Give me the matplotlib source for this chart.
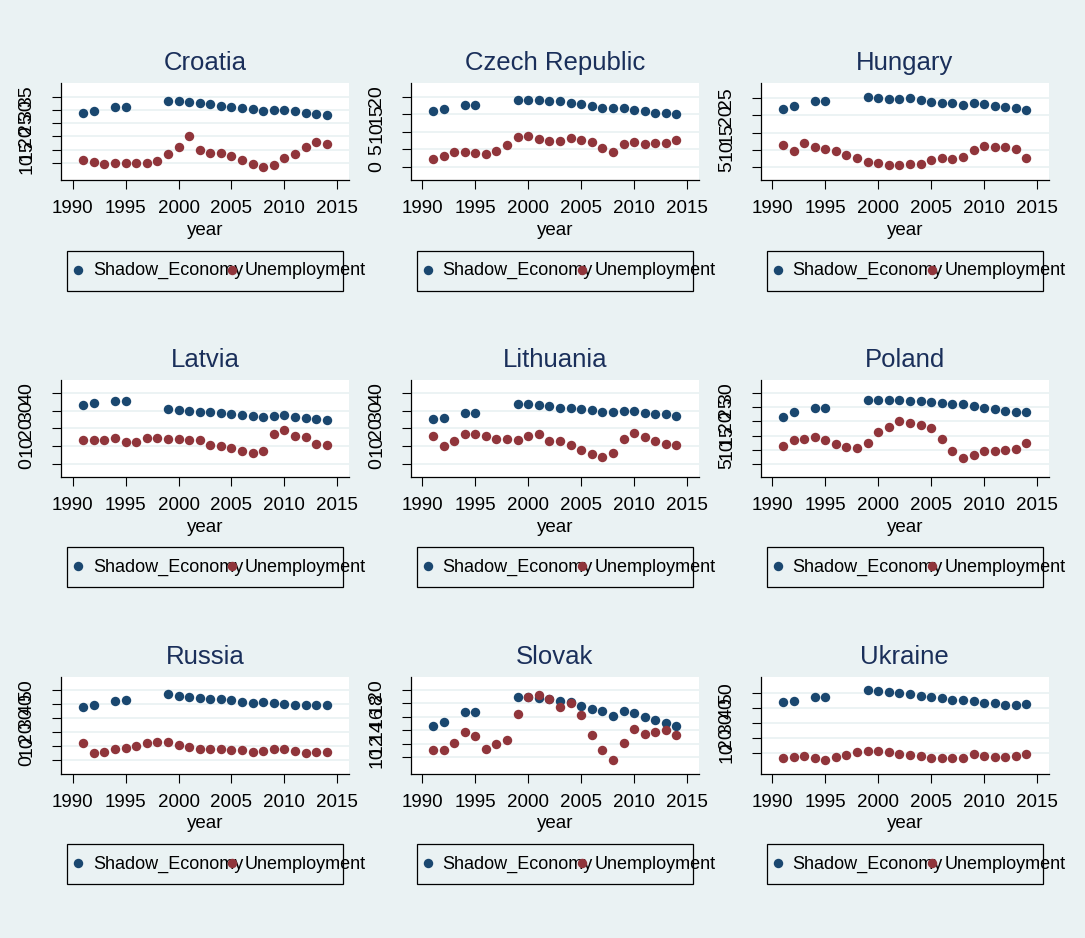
import numpy as np
import matplotlib
matplotlib.use("Agg")
import matplotlib.pyplot as plt
from matplotlib.patches import Rectangle
from matplotlib.lines import Line2D

plt.rcParams['font.family'] = ['Liberation Sans', 'DejaVu Sans']

years = list(range(1991, 2015))
countries = ["Croatia", "Czech Republic", "Hungary",
             "Latvia", "Lithuania", "Poland",
             "Russia", "Slovak", "Ukraine"]

# shadow economy (% of GDP), no data for 1993, 1996-1998
shadow_croatia = [28.75, 29.75, None, 30.9, 30.9, None, None, None, 33.5, 33.25, 33.0, 32.5,
                  32.1, 31.5, 31.25, 30.6, 30.4, 29.6, 30.0, 29.9, 29.5, 29.0, 28.4, 28.0]
shadow_czech = [16.0, 16.5, None, 17.6, 17.6, None, None, None, 19.1, 19.1, 19.0, 18.8,
                18.7, 18.3, 17.8, 17.2, 16.9, 16.7, 16.7, 16.2, 15.8, 15.4, 15.2, 15.0]
shadow_hungary = [21.9, 22.9, None, 24.2, 24.2, None, None, None, 25.5, 25.0, 24.8, 24.7,
                  25.0, 24.5, 23.8, 23.6, 23.6, 23.1, 23.5, 23.4, 22.9, 22.6, 22.2, 21.6]
shadow_latvia = [33.4, 34.7, None, 35.5, 35.5, None, None, None, 30.9, 30.6, 30.2, 29.6,
                 29.2, 28.9, 28.3, 27.4, 27.0, 26.8, 27.0, 27.4, 26.6, 26.0, 25.3, 24.9]
shadow_lithuania = [25.3, 26.2, None, 28.7, 28.7, None, None, None, 33.8, 33.8, 33.4, 32.8,
                    31.9, 31.9, 31.1, 30.6, 29.6, 29.4, 29.8, 29.8, 28.9, 28.5, 28.1, 27.0]
shadow_poland = [21.7, 23.2, None, 24.9, 24.9, None, None, None, 27.6, 27.6, 27.6, 27.6,
                 27.4, 27.4, 26.8, 26.5, 26.1, 26.1, 25.5, 24.9, 24.3, 23.8, 23.5, 23.3]
shadow_russia = [38.2, 39.4, None, 42.2, 42.7, None, None, None, 46.9, 46.0, 45.3, 44.3,
                 43.9, 43.4, 42.7, 41.5, 41.0, 41.5, 41.0, 40.3, 39.4, 39.4, 39.2, 39.6]
shadow_slovak = [14.6, 15.2, None, 16.65, 16.75, None, None, None, 19.0, 18.9, 18.8, 18.6,
                 18.4, 18.2, 17.6, 17.2, 16.8, 16.1, 16.8, 16.5, 16.0, 15.5, 15.1, 14.7]
shadow_ukraine = [43.8, 44.9, None, 47.8, 47.8, None, None, None, 52.2, 51.8, 51.1, 50.4,
                  49.6, 48.4, 47.3, 46.7, 45.6, 45.6, 44.7, 43.6, 43.1, 42.4, 41.8, 42.7]

# unemployment rate (%)
unemp_croatia = [11.25, 10.25, 9.75, 10, 10, 10, 10, 10.6, 13.5, 16, 20.25, 15,
                 13.75, 13.75, 12.5, 11.25, 9.75, 8.5, 9.1, 11.75, 13.5, 16, 17.75, 17.25]
unemp_czech = [2.3, 3.2, 4.2, 4.2, 4.0, 3.7, 4.6, 6.3, 8.5, 8.7, 7.9, 7.3,
               7.5, 8.1, 7.7, 7.0, 5.3, 4.4, 6.5, 7.2, 6.5, 6.8, 6.8, 7.8]
unemp_hungary = [11.5, 9.8, 12.1, 10.7, 10.2, 9.7, 8.6, 7.6, 6.6, 6.2, 5.6, 5.6,
                 5.9, 5.9, 6.9, 7.5, 7.3, 7.8, 10.0, 11.2, 10.8, 10.8, 10.2, 7.7]
unemp_latvia = [13.6, 13.2, 13.2, 14.5, 12.6, 12.6, 14.5, 14.5, 14.0, 14.3, 13.2, 13.2,
                10.8, 9.8, 8.9, 7.0, 6.0, 7.4, 17.0, 18.9, 16.0, 14.9, 11.1, 10.8]
unemp_lithuania = [15.5, 9.8, 13.0, 17.0, 16.8, 15.5, 14.3, 14.0, 13.6, 16.0, 16.8, 13.0,
                   13.0, 10.8, 7.9, 5.7, 3.8, 6.0, 14.0, 17.7, 15.1, 13.0, 11.3, 10.6]
unemp_poland = [11.4, 13.3, 13.7, 14.4, 13.3, 12.1, 11.1, 10.5, 12.5, 16.1, 18.0, 20.0,
                19.6, 18.7, 17.7, 13.7, 9.6, 7.0, 8.2, 9.4, 9.4, 10.0, 10.2, 12.3]
unemp_russia = [12.7, 5.4, 5.9, 8.0, 9.0, 9.9, 12.3, 13.4, 13.0, 10.8, 9.2, 8.0,
                8.0, 8.0, 7.1, 7.1, 5.9, 6.6, 8.3, 7.8, 6.4, 5.4, 5.9, 5.7]
unemp_slovak = [11.0, 11.1, 12.1, 13.7, 13.1, 11.2, 11.9, 12.6, 16.45, 18.9, 19.3, 18.6,
                17.5, 18.0, 16.2, 13.35, 11.0, 9.5, 12.1, 14.2, 13.5, 13.8, 14.1, 13.25]
unemp_ukraine = [6.0, 6.9, 7.8, 6.4, 4.7, 6.9, 8.4, 10.7, 11.1, 11.1, 10.4, 8.9,
                 8.4, 7.8, 6.4, 6.4, 6.0, 6.0, 8.9, 7.8, 7.3, 6.9, 7.8, 8.9]

# y axis ticks of each panel
yticks_croatia = [10, 15, 20, 25, 30, 35]
yticks_czech = [0, 5, 10, 15, 20]
yticks_hungary = [5, 10, 15, 20, 25]
yticks_latvia = [0, 10, 20, 30, 40]
yticks_lithuania = [0, 10, 20, 30, 40]
yticks_poland = [5, 10, 15, 20, 25, 30]
yticks_russia = [0, 10, 20, 30, 40, 50]
yticks_slovak = [10, 12, 14, 16, 18, 20]
yticks_ukraine = [10, 20, 30, 40, 50]

xticks = [1990, 1995, 2000, 2005, 2010, 2015]

shadow_all = [shadow_croatia, shadow_czech, shadow_hungary, shadow_latvia, shadow_lithuania,
              shadow_poland, shadow_russia, shadow_slovak, shadow_ukraine]
unemp_all = [unemp_croatia, unemp_czech, unemp_hungary, unemp_latvia, unemp_lithuania,
             unemp_poland, unemp_russia, unemp_slovak, unemp_ukraine]
yticks_all = [yticks_croatia, yticks_czech, yticks_hungary, yticks_latvia, yticks_lithuania,
              yticks_poland, yticks_russia, yticks_slovak, yticks_ukraine]

bg = "#EAF2F3"
navy = "#1A476F"
maroon = "#90353B"
title_col = "#1A2F5A"

W, H = 1085, 938
col_left = [61, 410.7, 760.7]
row_top = [83.3, 380, 676.7]
ax_w, ax_h = 288, 97
marg = 13.3  # stata plot region margin in px
msz = 6.8
fs = 13

fig = plt.figure(figsize=(W / 100, H / 100), dpi=100, facecolor=bg)

def fx(x):
    return x / W

def fy(y):
    return 1 - y / H

for i, name in enumerate(countries):
    L = col_left[i % 3]
    T = row_top[i // 3]
    ax = fig.add_axes([fx(L), fy(T + ax_h), ax_w / W, ax_h / H])
    ax.set_facecolor("white")

    se = np.array(shadow_all[i], dtype=float)
    ue = np.array(unemp_all[i], dtype=float)
    ticks = yticks_all[i]

    ax.plot(years, se, "o", color=navy, ms=msz, mew=0, zorder=3)
    ax.plot(years, ue, "o", color=maroon, ms=msz, mew=0, zorder=3)

    lo = min(ticks[0], np.nanmin(se), np.nanmin(ue))
    hi = max(ticks[-1], np.nanmax(se), np.nanmax(ue))
    pad = (hi - lo) * marg / (ax_h - 2 * marg)
    ax.set_ylim(lo - pad, hi + pad)
    ax.set_xlim(1988.9, 2016.1)

    ax.set_yticks(ticks)
    ax.set_yticklabels([str(t) for t in ticks], rotation=90, va="center", fontsize=14)
    ax.set_xticks(xticks)
    ax.set_xticklabels([str(t) for t in xticks], fontsize=fs + 0.5)
    ax.grid(axis="y", color=bg, lw=1.3)
    ax.set_axisbelow(True)
    ax.tick_params(axis="y", length=6.5, width=0.8, pad=12)
    ax.tick_params(axis="x", length=6.5, width=0.8, pad=8)
    for s in ["top", "right"]:
        ax.spines[s].set_visible(False)
    for s in ["left", "bottom"]:
        ax.spines[s].set_linewidth(0.9)

    cx = L + ax_w / 2
    fig.text(fx(cx), fy(T - 20), name, ha="center", va="center",
             fontsize=18.5, color=title_col)
    fig.text(fx(cx), fy(T + ax_h + 50), "year", ha="center", va="center", fontsize=fs + 0.5)

    # legend box
    bl = L + 6
    bt = T + ax_h + 70.3
    fig.add_artist(Rectangle((fx(bl), fy(bt + 40)), 276 / W, 40 / H,
                             transform=fig.transFigure, fill=False,
                             ec="black", lw=0.9))
    ly = bt + 19
    fig.add_artist(Line2D([fx(bl + 11)], [fy(ly)], marker="o", ms=msz, mew=0,
                          color=navy, transform=fig.transFigure))
    fig.text(fx(bl + 26), fy(ly + 1), "Shadow_Economy", ha="left", va="center",
             fontsize=fs, zorder=1)
    fig.add_artist(Line2D([fx(bl + 165)], [fy(ly)], marker="o", ms=msz, mew=0,
                          color=maroon, transform=fig.transFigure, zorder=4))
    fig.text(fx(bl + 178), fy(ly + 1), "Unemployment", ha="left", va="center",
             fontsize=fs, zorder=5)

fig.savefig("out.png", dpi=100, facecolor=bg)
